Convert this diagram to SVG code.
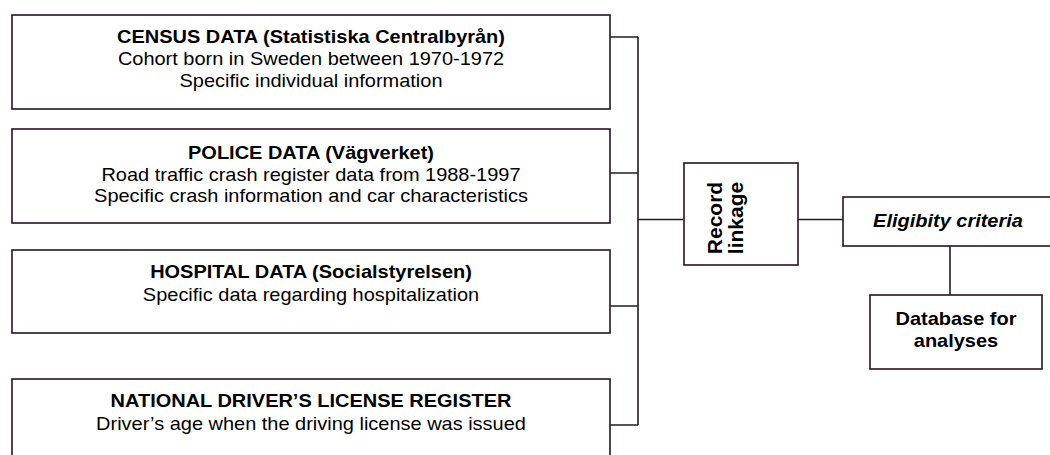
<svg xmlns="http://www.w3.org/2000/svg" width="1050" height="455" viewBox="0 0 1050 455">
<style>
.box{fill:#fff;stroke:#2a1220;stroke-width:1.6}
.con{fill:none;stroke:#231a20;stroke-width:1.6}
text{font-family:"Liberation Sans",Arial,sans-serif;font-size:18px;fill:#000;text-anchor:middle}
.b{font-weight:bold}
.i{font-style:italic}
</style>
<rect width="1050" height="455" fill="#fff"/>
<g id="connectors">
<path class="con" d="M610,37H638M638,37V425M610,173H638M610,306H638M610,425H638M638,219.5H683M798,219.5H843M950,246V295"/>
</g>
<g id="census">
<rect class="box" x="12" y="15" width="598" height="94"/>
<text class="b" transform="translate(311,43) scale(1.11,1)">CENSUS DATA (Statistiska Centralbyrån)</text>
<text transform="translate(311,65) scale(1.11,1)">Cohort born in Sweden between 1970-1972</text>
<text transform="translate(311,87) scale(1.11,1)">Specific individual information</text>
</g>
<g id="police">
<rect class="box" x="12" y="129" width="598" height="94"/>
<text class="b" transform="translate(311,159) scale(1.11,1)">POLICE DATA (Vägverket)</text>
<text transform="translate(311,181) scale(1.11,1)">Road traffic crash register data from 1988-1997</text>
<text transform="translate(311,202) scale(1.11,1)">Specific crash information and car characteristics</text>
</g>
<g id="hospital">
<rect class="box" x="12" y="250" width="598" height="83"/>
<text class="b" transform="translate(311,278) scale(1.11,1)">HOSPITAL DATA (Socialstyrelsen)</text>
<text transform="translate(311,301) scale(1.11,1)">Specific data regarding hospitalization</text>
</g>
<g id="license">
<rect class="box" x="12" y="379" width="598" height="90"/>
<text class="b" transform="translate(311,407) scale(1.11,1)">NATIONAL DRIVER’S LICENSE REGISTER</text>
<text transform="translate(311,430) scale(1.11,1)">Driver’s age when the driving license was issued</text>
</g>
<g id="record">
<rect class="box" x="684" y="163" width="114" height="102"/>
<text class="b" style="font-size:21px" transform="translate(722,218) rotate(-90)">Record</text>
<text class="b" style="font-size:21px" transform="translate(743,218) rotate(-90)">linkage</text>
</g>
<g id="eligibility">
<rect class="box" x="843" y="197" width="212" height="49"/>
<text class="b i" transform="translate(948,227) scale(1.11,1)">Eligibity criteria</text>
</g>
<g id="database">
<rect class="box" x="870" y="295" width="172" height="74"/>
<text class="b" transform="translate(956,325) scale(1.11,1)">Database for</text>
<text class="b" transform="translate(956,347) scale(1.11,1)">analyses</text>
</g>
</svg>
